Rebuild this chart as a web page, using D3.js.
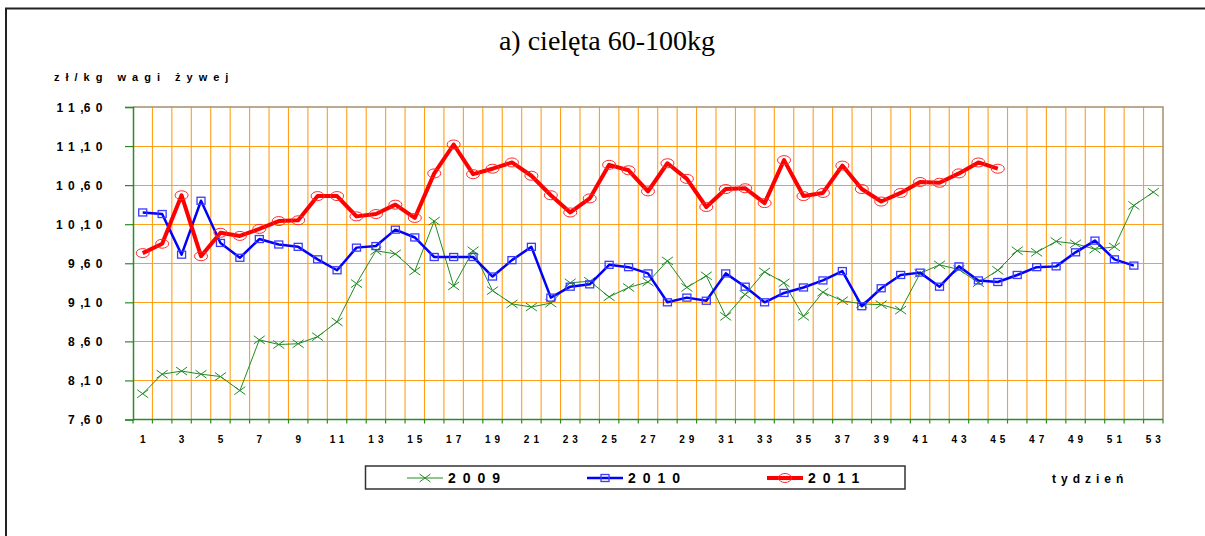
<!DOCTYPE html>
<html>
<head>
<meta charset="utf-8">
<script src="https://cdn.jsdelivr.net/npm/d3@7"></script>
<style>
  body { margin: 0; background: #fff; }
  svg { display: block; }
  text { font-family: Arial, "Liberation Sans", sans-serif; }
</style>
</head>
<body>
<svg id="chart" width="1205" height="536"></svg>
<script>
// Weekly prices of calves 60-100 kg, zł per kg live weight
const weeks = [1, 2, 3, 4, 5, 6, 7, 8, 9, 10, 11, 12, 13, 14, 15, 16, 17, 18, 19, 20,
  21, 22, 23, 24, 25, 26, 27, 28, 29, 30, 31, 32, 33, 34, 35, 36, 37, 38, 39, 40,
  41, 42, 43, 44, 45, 46, 47, 48, 49, 50, 51, 52, 53];

const prices2009 = [7.93, 8.18, 8.22, 8.18, 8.15, 7.97, 8.62, 8.56, 8.57, 8.66,
  8.85, 9.34, 9.76, 9.72, 9.50, 10.14, 9.31, 9.76, 9.25, 9.08,
  9.04, 9.09, 9.35, 9.37, 9.17, 9.29, 9.36, 9.63, 9.29, 9.44,
  8.92, 9.20, 9.49, 9.35, 8.92, 9.23, 9.12, 9.08, 9.07, 9.00,
  9.47, 9.58, 9.52, 9.35, 9.51, 9.76, 9.74, 9.88, 9.85, 9.78,
  9.81, 10.34, 10.51];

const prices2010 = [10.25, 10.23, 9.71, 10.40, 9.86, 9.67, 9.91, 9.84, 9.81, 9.65,
  9.51, 9.80, 9.82, 10.03, 9.93, 9.68, 9.68, 9.68, 9.43, 9.64,
  9.81, 9.16, 9.30, 9.33, 9.58, 9.55, 9.47, 9.10, 9.16, 9.12,
  9.47, 9.30, 9.10, 9.22, 9.29, 9.38, 9.50, 9.05, 9.28, 9.45,
  9.48, 9.30, 9.56, 9.38, 9.36, 9.45, 9.55, 9.56, 9.74, 9.89,
  9.65, 9.57];

const prices2011 = [9.73, 9.85, 10.47, 9.69, 9.99, 9.95, 10.04, 10.14, 10.15, 10.46,
  10.46, 10.20, 10.23, 10.35, 10.18, 10.75, 11.12, 10.74, 10.81, 10.89,
  10.72, 10.47, 10.25, 10.43, 10.86, 10.79, 10.52, 10.88, 10.68, 10.32,
  10.55, 10.56, 10.37, 10.92, 10.46, 10.50, 10.85, 10.55, 10.39, 10.50,
  10.64, 10.63, 10.75, 10.89, 10.81];

const yTickValues = [7.6, 8.1, 8.6, 9.1, 9.6, 10.1, 10.6, 11.1, 11.6];
const xLabelWeeks = [1, 3, 5, 7, 9, 11, 13, 15, 17, 19, 21, 23, 25, 27, 29, 31, 33,
  35, 37, 39, 41, 43, 45, 47, 49, 51, 53];
const seriesNames = ["2009", "2010", "2011"];

const titleText = "a) cielęta 60-100kg";
const yAxisTitle = "zł/kg wagi żywej";
const xAxisTitle = "tydzień";

const svg = d3.select("#chart");
const plot = { left: 133, right: 1163, top: 107, bottom: 419.5 };

const x = d3.scaleBand().domain(weeks).range([plot.left, plot.right]).padding(0);
const y = d3.scaleLinear().domain([7.6, 11.6]).range([plot.bottom, plot.top]);
const cx = w => x(w) + x.bandwidth() / 2;

const gridColor = "#ff9f1a";
const axisColor = "#2a8a2a";
const borderColor = "#a58f6c";

// outer frame (top and left edges)
svg.append("line").attr("x1", 5).attr("x2", 1205).attr("y1", 8.5).attr("y2", 8.5)
  .attr("stroke", "#222").attr("stroke-width", 2);
svg.append("line").attr("x1", 6).attr("x2", 6).attr("y1", 8).attr("y2", 536)
  .attr("stroke", "#222").attr("stroke-width", 2);

// title
svg.append("text").attr("x", 607).attr("y", 50)
  .attr("text-anchor", "middle")
  .style("font-family", "'Times New Roman', 'Liberation Serif', serif")
  .style("font-size", "28px").attr("fill", "#000")
  .text(titleText);

// horizontal grid
svg.append("g").selectAll("line")
  .data(yTickValues.slice(1, -1)).join("line")
  .attr("x1", plot.left).attr("x2", plot.right)
  .attr("y1", d => Math.round(y(d)) + 0.5).attr("y2", d => Math.round(y(d)) + 0.5)
  .attr("stroke", gridColor).attr("stroke-width", 1);

// vertical grid at week boundaries
svg.append("g").selectAll("line")
  .data(weeks.slice(1)).join("line")
  .attr("x1", d => x(d)).attr("x2", d => x(d))
  .attr("y1", plot.top).attr("y2", plot.bottom)
  .attr("stroke", gridColor).attr("stroke-width", 1.1);

// plot border top/right
svg.append("path")
  .attr("d", `M${plot.left},${plot.top}H${plot.right}V${plot.bottom}`)
  .attr("fill", "none").attr("stroke", borderColor).attr("stroke-width", 1.5);

// y axis
const fmt = d => d3.format(".2f")(d).replace(".", ",");
const yAxis = d3.axisLeft(y).tickValues(yTickValues).tickSize(8).tickPadding(0)
  .tickFormat(fmt);
const gy = svg.append("g").attr("transform", `translate(${plot.left},0)`).call(yAxis);
gy.select(".domain").attr("stroke", axisColor).attr("stroke-width", 1.5);
gy.selectAll(".tick line").attr("stroke", axisColor).attr("stroke-width", 1.2);
// integer part is spaced, the comma sits tight against the decimals
gy.selectAll(".tick text").each(function (d) {
  const t = d3.select(this).text("");
  const parts = fmt(d).split(",");
  t.attr("x", -25).attr("dy", "0.36em")
    .style("font-size", "12px").style("font-weight", "bold").attr("fill", "#000");
  t.append("tspan").style("letter-spacing", "5.5px").text(parts[0]);
  t.append("tspan").style("letter-spacing", "0px").text(",");
  t.append("tspan").style("letter-spacing", "5.5px").text(parts[1]);
});

// x axis: ticks on week boundaries, labels on odd weeks
const gx = svg.append("g").attr("transform", `translate(0,${plot.bottom})`);
gx.append("line").attr("x1", plot.left).attr("x2", plot.right)
  .attr("stroke", axisColor).attr("stroke-width", 1.5);
gx.selectAll(".wtick").data(weeks.concat([null])).join("line")
  .attr("class", "wtick")
  .attr("x1", d => d === null ? plot.right : x(d))
  .attr("x2", d => d === null ? plot.right : x(d))
  .attr("y1", 0).attr("y2", 4)
  .attr("stroke", axisColor).attr("stroke-width", 1.2);
const xAxis = d3.axisBottom(x).tickValues(xLabelWeeks).tickSize(0).tickPadding(16);
const gxl = svg.append("g").attr("transform", `translate(0,${plot.bottom})`).call(xAxis);
gxl.select(".domain").remove();
gxl.selectAll(".tick text")
  .attr("dx", 2)
  .style("font-size", "10px").style("font-weight", "bold")
  .style("letter-spacing", "4px").attr("fill", "#000");

// axis titles
svg.append("text").attr("x", 54).attr("y", 81)
  .style("font-size", "11px").style("font-weight", "bold")
  .style("letter-spacing", "6px").attr("fill", "#000")
  .text(yAxisTitle);
svg.append("text").attr("x", 1052).attr("y", 483)
  .style("font-size", "12px").style("font-weight", "bold")
  .style("letter-spacing", "5px").attr("fill", "#000")
  .text(xAxisTitle);

// series
const series = [
  { name: seriesNames[0], values: prices2009, color: "#228b22", width: 1, marker: "cross" },
  { name: seriesNames[1], values: prices2010, color: "#0000ff", width: 2.5, marker: "square" },
  { name: seriesNames[2], values: prices2011, color: "#ff0000", width: 4, marker: "ellipse" }
];

const line = d3.line().x(d => cx(d.week)).y(d => y(d.value));

function drawMarker(g, type, color) {
  if (type === "cross") {
    g.append("path").attr("d", "M-5.5,-4L5.5,4M-5.5,4L5.5,-4")
      .attr("stroke", color).attr("stroke-width", 1).attr("fill", "none");
  } else if (type === "square") {
    g.append("rect").attr("x", -4).attr("y", -3.5).attr("width", 8).attr("height", 7)
      .attr("stroke", "#3b3bff").attr("stroke-width", 1.3).attr("fill", "none");
  } else {
    g.append("ellipse").attr("rx", 6.5).attr("ry", 4.5)
      .attr("stroke", "#ff2a2a").attr("stroke-width", 1).attr("fill", "none");
  }
}

series.forEach(s => {
  const pts = s.values.map((v, i) => ({ week: weeks[i], value: v }));
  const g = svg.append("g");
  g.append("path").datum(pts).attr("d", line)
    .attr("fill", "none").attr("stroke", s.color)
    .attr("stroke-width", s.width).attr("stroke-linejoin", "round");
  g.selectAll(".m").data(pts).join("g").attr("class", "m")
    .attr("transform", d => `translate(${cx(d.week)},${y(d.value)})`)
    .each(function () { drawMarker(d3.select(this), s.marker, s.color); });
});

// legend
const legend = svg.append("g");
legend.append("rect").attr("x", 365.5).attr("y", 466).attr("width", 539.5).attr("height", 23)
  .attr("fill", "#fff").attr("stroke", "#333").attr("stroke-width", 1.5);
const legendX = [407, 587, 767];
series.forEach((s, i) => {
  const g = legend.append("g").attr("transform", `translate(${legendX[i]},478)`);
  g.append("line").attr("x1", 0).attr("x2", 36).attr("stroke", s.color)
    .attr("stroke-width", s.width);
  const mg = g.append("g").attr("transform", "translate(18,0)");
  drawMarker(mg, s.marker, s.color);
  g.append("text").attr("x", 41).attr("y", 5)
    .style("font-size", "14px").style("font-weight", "bold")
    .style("letter-spacing", "7px").attr("fill", "#000")
    .text(s.name);
});
</script>
</body>
</html>
